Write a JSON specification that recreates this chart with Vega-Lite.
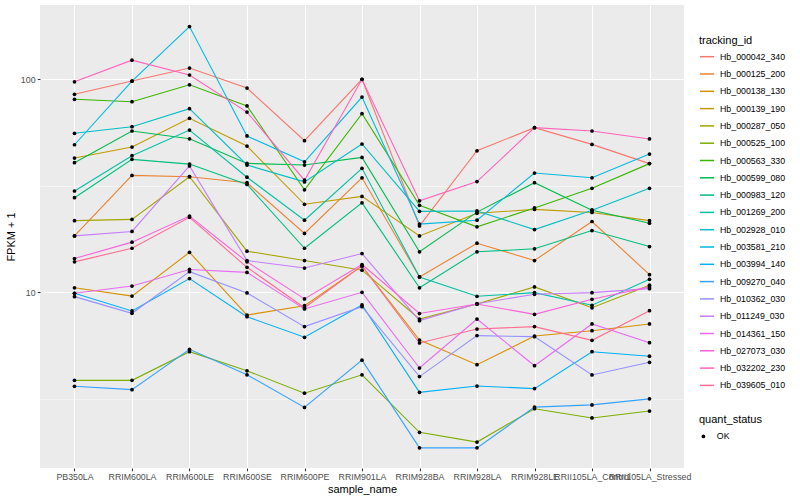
{
  "$schema": "https://vega.github.io/schema/vega-lite/v6.json",
  "width": 644,
  "height": 463,
  "autosize": "none",
  "padding": {"left": 40, "top": 5, "right": 116, "bottom": 32},
  "background": "white",
  "config": {
    "font": "Liberation Sans",
    "view": {"fill": "#EBEBEB", "stroke": null},
    "axis": {
      "domain": false,
      "tickColor": "#333333",
      "tickSize": 2.75,
      "tickWidth": 1.07,
      "labelColor": "#4D4D4D",
      "labelFontSize": 8.8,
      "labelPadding": 2.2,
      "titleFontSize": 11,
      "titleFontWeight": "normal",
      "titleColor": "black",
      "gridColor": "white"
    },
    "legend": {
      "titleFontSize": 11,
      "titleFontWeight": "normal",
      "titleColor": "black",
      "labelFontSize": 8.8,
      "labelColor": "black",
      "padding": 0
    }
  },
  "data": {
    "values": [
      {"tracking_id": "Hb_000042_340", "sample_name": "PB350LA", "fpkm_plus_1": 85.1, "quant_status": "OK"},
      {"tracking_id": "Hb_000042_340", "sample_name": "RRIM600LA", "fpkm_plus_1": 98.2, "quant_status": "OK"},
      {"tracking_id": "Hb_000042_340", "sample_name": "RRIM600LE", "fpkm_plus_1": 113, "quant_status": "OK"},
      {"tracking_id": "Hb_000042_340", "sample_name": "RRIM600SE", "fpkm_plus_1": 91, "quant_status": "OK"},
      {"tracking_id": "Hb_000042_340", "sample_name": "RRIM600PE", "fpkm_plus_1": 51.5, "quant_status": "OK"},
      {"tracking_id": "Hb_000042_340", "sample_name": "RRIM901LA", "fpkm_plus_1": 100, "quant_status": "OK"},
      {"tracking_id": "Hb_000042_340", "sample_name": "RRIM928BA", "fpkm_plus_1": 20.5, "quant_status": "OK"},
      {"tracking_id": "Hb_000042_340", "sample_name": "RRIM928LA", "fpkm_plus_1": 46.2, "quant_status": "OK"},
      {"tracking_id": "Hb_000042_340", "sample_name": "RRIM928LE", "fpkm_plus_1": 59.3, "quant_status": "OK"},
      {"tracking_id": "Hb_000042_340", "sample_name": "RRII105LA_Control", "fpkm_plus_1": 49.5, "quant_status": "OK"},
      {"tracking_id": "Hb_000042_340", "sample_name": "RRII105LA_Stressed", "fpkm_plus_1": 40.2, "quant_status": "OK"},

      {"tracking_id": "Hb_000125_200", "sample_name": "PB350LA", "fpkm_plus_1": 18.4, "quant_status": "OK"},
      {"tracking_id": "Hb_000125_200", "sample_name": "RRIM600LA", "fpkm_plus_1": 35.4, "quant_status": "OK"},
      {"tracking_id": "Hb_000125_200", "sample_name": "RRIM600LE", "fpkm_plus_1": 34.9, "quant_status": "OK"},
      {"tracking_id": "Hb_000125_200", "sample_name": "RRIM600SE", "fpkm_plus_1": 32.7, "quant_status": "OK"},
      {"tracking_id": "Hb_000125_200", "sample_name": "RRIM600PE", "fpkm_plus_1": 18.9, "quant_status": "OK"},
      {"tracking_id": "Hb_000125_200", "sample_name": "RRIM901LA", "fpkm_plus_1": 34.5, "quant_status": "OK"},
      {"tracking_id": "Hb_000125_200", "sample_name": "RRIM928BA", "fpkm_plus_1": 11.8, "quant_status": "OK"},
      {"tracking_id": "Hb_000125_200", "sample_name": "RRIM928LA", "fpkm_plus_1": 17.0, "quant_status": "OK"},
      {"tracking_id": "Hb_000125_200", "sample_name": "RRIM928LE", "fpkm_plus_1": 14.1, "quant_status": "OK"},
      {"tracking_id": "Hb_000125_200", "sample_name": "RRII105LA_Control", "fpkm_plus_1": 21.5, "quant_status": "OK"},
      {"tracking_id": "Hb_000125_200", "sample_name": "RRII105LA_Stressed", "fpkm_plus_1": 12.1, "quant_status": "OK"},

      {"tracking_id": "Hb_000138_130", "sample_name": "PB350LA", "fpkm_plus_1": 10.5, "quant_status": "OK"},
      {"tracking_id": "Hb_000138_130", "sample_name": "RRIM600LA", "fpkm_plus_1": 9.6, "quant_status": "OK"},
      {"tracking_id": "Hb_000138_130", "sample_name": "RRIM600LE", "fpkm_plus_1": 15.4, "quant_status": "OK"},
      {"tracking_id": "Hb_000138_130", "sample_name": "RRIM600SE", "fpkm_plus_1": 7.82, "quant_status": "OK"},
      {"tracking_id": "Hb_000138_130", "sample_name": "RRIM600PE", "fpkm_plus_1": 8.65, "quant_status": "OK"},
      {"tracking_id": "Hb_000138_130", "sample_name": "RRIM901LA", "fpkm_plus_1": 13.3, "quant_status": "OK"},
      {"tracking_id": "Hb_000138_130", "sample_name": "RRIM928BA", "fpkm_plus_1": 5.97, "quant_status": "OK"},
      {"tracking_id": "Hb_000138_130", "sample_name": "RRIM928LA", "fpkm_plus_1": 4.57, "quant_status": "OK"},
      {"tracking_id": "Hb_000138_130", "sample_name": "RRIM928LE", "fpkm_plus_1": 6.23, "quant_status": "OK"},
      {"tracking_id": "Hb_000138_130", "sample_name": "RRII105LA_Control", "fpkm_plus_1": 6.6, "quant_status": "OK"},
      {"tracking_id": "Hb_000138_130", "sample_name": "RRII105LA_Stressed", "fpkm_plus_1": 7.1, "quant_status": "OK"},

      {"tracking_id": "Hb_000139_190", "sample_name": "PB350LA", "fpkm_plus_1": 42.7, "quant_status": "OK"},
      {"tracking_id": "Hb_000139_190", "sample_name": "RRIM600LA", "fpkm_plus_1": 48.1, "quant_status": "OK"},
      {"tracking_id": "Hb_000139_190", "sample_name": "RRIM600LE", "fpkm_plus_1": 65.6, "quant_status": "OK"},
      {"tracking_id": "Hb_000139_190", "sample_name": "RRIM600SE", "fpkm_plus_1": 48.6, "quant_status": "OK"},
      {"tracking_id": "Hb_000139_190", "sample_name": "RRIM600PE", "fpkm_plus_1": 25.9, "quant_status": "OK"},
      {"tracking_id": "Hb_000139_190", "sample_name": "RRIM901LA", "fpkm_plus_1": 28.2, "quant_status": "OK"},
      {"tracking_id": "Hb_000139_190", "sample_name": "RRIM928BA", "fpkm_plus_1": 18.4, "quant_status": "OK"},
      {"tracking_id": "Hb_000139_190", "sample_name": "RRIM928LA", "fpkm_plus_1": 23.5, "quant_status": "OK"},
      {"tracking_id": "Hb_000139_190", "sample_name": "RRIM928LE", "fpkm_plus_1": 24.5, "quant_status": "OK"},
      {"tracking_id": "Hb_000139_190", "sample_name": "RRII105LA_Control", "fpkm_plus_1": 23.7, "quant_status": "OK"},
      {"tracking_id": "Hb_000139_190", "sample_name": "RRII105LA_Stressed", "fpkm_plus_1": 21.7, "quant_status": "OK"},

      {"tracking_id": "Hb_000287_050", "sample_name": "PB350LA", "fpkm_plus_1": 21.7, "quant_status": "OK"},
      {"tracking_id": "Hb_000287_050", "sample_name": "RRIM600LA", "fpkm_plus_1": 22.0, "quant_status": "OK"},
      {"tracking_id": "Hb_000287_050", "sample_name": "RRIM600LE", "fpkm_plus_1": 34.9, "quant_status": "OK"},
      {"tracking_id": "Hb_000287_050", "sample_name": "RRIM600SE", "fpkm_plus_1": 15.6, "quant_status": "OK"},
      {"tracking_id": "Hb_000287_050", "sample_name": "RRIM600PE", "fpkm_plus_1": 14.1, "quant_status": "OK"},
      {"tracking_id": "Hb_000287_050", "sample_name": "RRIM901LA", "fpkm_plus_1": 12.7, "quant_status": "OK"},
      {"tracking_id": "Hb_000287_050", "sample_name": "RRIM928BA", "fpkm_plus_1": 7.49, "quant_status": "OK"},
      {"tracking_id": "Hb_000287_050", "sample_name": "RRIM928LA", "fpkm_plus_1": 8.81, "quant_status": "OK"},
      {"tracking_id": "Hb_000287_050", "sample_name": "RRIM928LE", "fpkm_plus_1": 10.6, "quant_status": "OK"},
      {"tracking_id": "Hb_000287_050", "sample_name": "RRII105LA_Control", "fpkm_plus_1": 8.46, "quant_status": "OK"},
      {"tracking_id": "Hb_000287_050", "sample_name": "RRII105LA_Stressed", "fpkm_plus_1": 10.8, "quant_status": "OK"},

      {"tracking_id": "Hb_000525_100", "sample_name": "PB350LA", "fpkm_plus_1": 3.86, "quant_status": "OK"},
      {"tracking_id": "Hb_000525_100", "sample_name": "RRIM600LA", "fpkm_plus_1": 3.86, "quant_status": "OK"},
      {"tracking_id": "Hb_000525_100", "sample_name": "RRIM600LE", "fpkm_plus_1": 5.26, "quant_status": "OK"},
      {"tracking_id": "Hb_000525_100", "sample_name": "RRIM600SE", "fpkm_plus_1": 4.28, "quant_status": "OK"},
      {"tracking_id": "Hb_000525_100", "sample_name": "RRIM600PE", "fpkm_plus_1": 3.36, "quant_status": "OK"},
      {"tracking_id": "Hb_000525_100", "sample_name": "RRIM901LA", "fpkm_plus_1": 4.1, "quant_status": "OK"},
      {"tracking_id": "Hb_000525_100", "sample_name": "RRIM928BA", "fpkm_plus_1": 2.2, "quant_status": "OK"},
      {"tracking_id": "Hb_000525_100", "sample_name": "RRIM928LA", "fpkm_plus_1": 1.98, "quant_status": "OK"},
      {"tracking_id": "Hb_000525_100", "sample_name": "RRIM928LE", "fpkm_plus_1": 2.84, "quant_status": "OK"},
      {"tracking_id": "Hb_000525_100", "sample_name": "RRII105LA_Control", "fpkm_plus_1": 2.57, "quant_status": "OK"},
      {"tracking_id": "Hb_000525_100", "sample_name": "RRII105LA_Stressed", "fpkm_plus_1": 2.77, "quant_status": "OK"},

      {"tracking_id": "Hb_000563_330", "sample_name": "PB350LA", "fpkm_plus_1": 80.6, "quant_status": "OK"},
      {"tracking_id": "Hb_000563_330", "sample_name": "RRIM600LA", "fpkm_plus_1": 78.5, "quant_status": "OK"},
      {"tracking_id": "Hb_000563_330", "sample_name": "RRIM600LE", "fpkm_plus_1": 94.3, "quant_status": "OK"},
      {"tracking_id": "Hb_000563_330", "sample_name": "RRIM600SE", "fpkm_plus_1": 75, "quant_status": "OK"},
      {"tracking_id": "Hb_000563_330", "sample_name": "RRIM600PE", "fpkm_plus_1": 30.3, "quant_status": "OK"},
      {"tracking_id": "Hb_000563_330", "sample_name": "RRIM901LA", "fpkm_plus_1": 69, "quant_status": "OK"},
      {"tracking_id": "Hb_000563_330", "sample_name": "RRIM928BA", "fpkm_plus_1": 25.6, "quant_status": "OK"},
      {"tracking_id": "Hb_000563_330", "sample_name": "RRIM928LA", "fpkm_plus_1": 20.3, "quant_status": "OK"},
      {"tracking_id": "Hb_000563_330", "sample_name": "RRIM928LE", "fpkm_plus_1": 24.9, "quant_status": "OK"},
      {"tracking_id": "Hb_000563_330", "sample_name": "RRII105LA_Control", "fpkm_plus_1": 30.8, "quant_status": "OK"},
      {"tracking_id": "Hb_000563_330", "sample_name": "RRII105LA_Stressed", "fpkm_plus_1": 40.2, "quant_status": "OK"},

      {"tracking_id": "Hb_000599_080", "sample_name": "PB350LA", "fpkm_plus_1": 40.6, "quant_status": "OK"},
      {"tracking_id": "Hb_000599_080", "sample_name": "RRIM600LA", "fpkm_plus_1": 57.2, "quant_status": "OK"},
      {"tracking_id": "Hb_000599_080", "sample_name": "RRIM600LE", "fpkm_plus_1": 52.6, "quant_status": "OK"},
      {"tracking_id": "Hb_000599_080", "sample_name": "RRIM600SE", "fpkm_plus_1": 40.3, "quant_status": "OK"},
      {"tracking_id": "Hb_000599_080", "sample_name": "RRIM600PE", "fpkm_plus_1": 39.6, "quant_status": "OK"},
      {"tracking_id": "Hb_000599_080", "sample_name": "RRIM901LA", "fpkm_plus_1": 43, "quant_status": "OK"},
      {"tracking_id": "Hb_000599_080", "sample_name": "RRIM928BA", "fpkm_plus_1": 15.5, "quant_status": "OK"},
      {"tracking_id": "Hb_000599_080", "sample_name": "RRIM928LA", "fpkm_plus_1": 23.8, "quant_status": "OK"},
      {"tracking_id": "Hb_000599_080", "sample_name": "RRIM928LE", "fpkm_plus_1": 32.7, "quant_status": "OK"},
      {"tracking_id": "Hb_000599_080", "sample_name": "RRII105LA_Control", "fpkm_plus_1": 24.3, "quant_status": "OK"},
      {"tracking_id": "Hb_000599_080", "sample_name": "RRII105LA_Stressed", "fpkm_plus_1": 21.1, "quant_status": "OK"},

      {"tracking_id": "Hb_000983_120", "sample_name": "PB350LA", "fpkm_plus_1": 27.8, "quant_status": "OK"},
      {"tracking_id": "Hb_000983_120", "sample_name": "RRIM600LA", "fpkm_plus_1": 42.1, "quant_status": "OK"},
      {"tracking_id": "Hb_000983_120", "sample_name": "RRIM600LE", "fpkm_plus_1": 40.0, "quant_status": "OK"},
      {"tracking_id": "Hb_000983_120", "sample_name": "RRIM600SE", "fpkm_plus_1": 32.1, "quant_status": "OK"},
      {"tracking_id": "Hb_000983_120", "sample_name": "RRIM600PE", "fpkm_plus_1": 16.1, "quant_status": "OK"},
      {"tracking_id": "Hb_000983_120", "sample_name": "RRIM901LA", "fpkm_plus_1": 26.3, "quant_status": "OK"},
      {"tracking_id": "Hb_000983_120", "sample_name": "RRIM928BA", "fpkm_plus_1": 10.5, "quant_status": "OK"},
      {"tracking_id": "Hb_000983_120", "sample_name": "RRIM928LA", "fpkm_plus_1": 15.5, "quant_status": "OK"},
      {"tracking_id": "Hb_000983_120", "sample_name": "RRIM928LE", "fpkm_plus_1": 16.0, "quant_status": "OK"},
      {"tracking_id": "Hb_000983_120", "sample_name": "RRII105LA_Control", "fpkm_plus_1": 19.5, "quant_status": "OK"},
      {"tracking_id": "Hb_000983_120", "sample_name": "RRII105LA_Stressed", "fpkm_plus_1": 16.4, "quant_status": "OK"},

      {"tracking_id": "Hb_001269_200", "sample_name": "PB350LA", "fpkm_plus_1": 29.9, "quant_status": "OK"},
      {"tracking_id": "Hb_001269_200", "sample_name": "RRIM600LA", "fpkm_plus_1": 43.8, "quant_status": "OK"},
      {"tracking_id": "Hb_001269_200", "sample_name": "RRIM600LE", "fpkm_plus_1": 57.8, "quant_status": "OK"},
      {"tracking_id": "Hb_001269_200", "sample_name": "RRIM600SE", "fpkm_plus_1": 34.7, "quant_status": "OK"},
      {"tracking_id": "Hb_001269_200", "sample_name": "RRIM600PE", "fpkm_plus_1": 21.8, "quant_status": "OK"},
      {"tracking_id": "Hb_001269_200", "sample_name": "RRIM901LA", "fpkm_plus_1": 38.2, "quant_status": "OK"},
      {"tracking_id": "Hb_001269_200", "sample_name": "RRIM928BA", "fpkm_plus_1": 11.8, "quant_status": "OK"},
      {"tracking_id": "Hb_001269_200", "sample_name": "RRIM928LA", "fpkm_plus_1": 9.58, "quant_status": "OK"},
      {"tracking_id": "Hb_001269_200", "sample_name": "RRIM928LE", "fpkm_plus_1": 9.96, "quant_status": "OK"},
      {"tracking_id": "Hb_001269_200", "sample_name": "RRII105LA_Control", "fpkm_plus_1": 8.69, "quant_status": "OK"},
      {"tracking_id": "Hb_001269_200", "sample_name": "RRII105LA_Stressed", "fpkm_plus_1": 11.5, "quant_status": "OK"},

      {"tracking_id": "Hb_002928_010", "sample_name": "PB350LA", "fpkm_plus_1": 55.8, "quant_status": "OK"},
      {"tracking_id": "Hb_002928_010", "sample_name": "RRIM600LA", "fpkm_plus_1": 59.9, "quant_status": "OK"},
      {"tracking_id": "Hb_002928_010", "sample_name": "RRIM600LE", "fpkm_plus_1": 72.8, "quant_status": "OK"},
      {"tracking_id": "Hb_002928_010", "sample_name": "RRIM600SE", "fpkm_plus_1": 39.6, "quant_status": "OK"},
      {"tracking_id": "Hb_002928_010", "sample_name": "RRIM600PE", "fpkm_plus_1": 33.0, "quant_status": "OK"},
      {"tracking_id": "Hb_002928_010", "sample_name": "RRIM901LA", "fpkm_plus_1": 49.7, "quant_status": "OK"},
      {"tracking_id": "Hb_002928_010", "sample_name": "RRIM928BA", "fpkm_plus_1": 24.0, "quant_status": "OK"},
      {"tracking_id": "Hb_002928_010", "sample_name": "RRIM928LA", "fpkm_plus_1": 24.1, "quant_status": "OK"},
      {"tracking_id": "Hb_002928_010", "sample_name": "RRIM928LE", "fpkm_plus_1": 19.7, "quant_status": "OK"},
      {"tracking_id": "Hb_002928_010", "sample_name": "RRII105LA_Control", "fpkm_plus_1": 24.3, "quant_status": "OK"},
      {"tracking_id": "Hb_002928_010", "sample_name": "RRII105LA_Stressed", "fpkm_plus_1": 30.8, "quant_status": "OK"},

      {"tracking_id": "Hb_003581_210", "sample_name": "PB350LA", "fpkm_plus_1": 49.3, "quant_status": "OK"},
      {"tracking_id": "Hb_003581_210", "sample_name": "RRIM600LA", "fpkm_plus_1": 98, "quant_status": "OK"},
      {"tracking_id": "Hb_003581_210", "sample_name": "RRIM600LE", "fpkm_plus_1": 177, "quant_status": "OK"},
      {"tracking_id": "Hb_003581_210", "sample_name": "RRIM600SE", "fpkm_plus_1": 54.2, "quant_status": "OK"},
      {"tracking_id": "Hb_003581_210", "sample_name": "RRIM600PE", "fpkm_plus_1": 41.0, "quant_status": "OK"},
      {"tracking_id": "Hb_003581_210", "sample_name": "RRIM901LA", "fpkm_plus_1": 82.6, "quant_status": "OK"},
      {"tracking_id": "Hb_003581_210", "sample_name": "RRIM928BA", "fpkm_plus_1": 20.9, "quant_status": "OK"},
      {"tracking_id": "Hb_003581_210", "sample_name": "RRIM928LA", "fpkm_plus_1": 21.8, "quant_status": "OK"},
      {"tracking_id": "Hb_003581_210", "sample_name": "RRIM928LE", "fpkm_plus_1": 36.3, "quant_status": "OK"},
      {"tracking_id": "Hb_003581_210", "sample_name": "RRII105LA_Control", "fpkm_plus_1": 34.5, "quant_status": "OK"},
      {"tracking_id": "Hb_003581_210", "sample_name": "RRII105LA_Stressed", "fpkm_plus_1": 44.6, "quant_status": "OK"},

      {"tracking_id": "Hb_003994_140", "sample_name": "PB350LA", "fpkm_plus_1": 9.89, "quant_status": "OK"},
      {"tracking_id": "Hb_003994_140", "sample_name": "RRIM600LA", "fpkm_plus_1": 8.17, "quant_status": "OK"},
      {"tracking_id": "Hb_003994_140", "sample_name": "RRIM600LE", "fpkm_plus_1": 11.6, "quant_status": "OK"},
      {"tracking_id": "Hb_003994_140", "sample_name": "RRIM600SE", "fpkm_plus_1": 7.68, "quant_status": "OK"},
      {"tracking_id": "Hb_003994_140", "sample_name": "RRIM600PE", "fpkm_plus_1": 6.15, "quant_status": "OK"},
      {"tracking_id": "Hb_003994_140", "sample_name": "RRIM901LA", "fpkm_plus_1": 8.72, "quant_status": "OK"},
      {"tracking_id": "Hb_003994_140", "sample_name": "RRIM928BA", "fpkm_plus_1": 3.39, "quant_status": "OK"},
      {"tracking_id": "Hb_003994_140", "sample_name": "RRIM928LA", "fpkm_plus_1": 3.63, "quant_status": "OK"},
      {"tracking_id": "Hb_003994_140", "sample_name": "RRIM928LE", "fpkm_plus_1": 3.53, "quant_status": "OK"},
      {"tracking_id": "Hb_003994_140", "sample_name": "RRII105LA_Control", "fpkm_plus_1": 5.26, "quant_status": "OK"},
      {"tracking_id": "Hb_003994_140", "sample_name": "RRII105LA_Stressed", "fpkm_plus_1": 5.01, "quant_status": "OK"},

      {"tracking_id": "Hb_009270_040", "sample_name": "PB350LA", "fpkm_plus_1": 3.62, "quant_status": "OK"},
      {"tracking_id": "Hb_009270_040", "sample_name": "RRIM600LA", "fpkm_plus_1": 3.49, "quant_status": "OK"},
      {"tracking_id": "Hb_009270_040", "sample_name": "RRIM600LE", "fpkm_plus_1": 5.4, "quant_status": "OK"},
      {"tracking_id": "Hb_009270_040", "sample_name": "RRIM600SE", "fpkm_plus_1": 4.1, "quant_status": "OK"},
      {"tracking_id": "Hb_009270_040", "sample_name": "RRIM600PE", "fpkm_plus_1": 2.88, "quant_status": "OK"},
      {"tracking_id": "Hb_009270_040", "sample_name": "RRIM901LA", "fpkm_plus_1": 4.8, "quant_status": "OK"},
      {"tracking_id": "Hb_009270_040", "sample_name": "RRIM928BA", "fpkm_plus_1": 1.86, "quant_status": "OK"},
      {"tracking_id": "Hb_009270_040", "sample_name": "RRIM928LA", "fpkm_plus_1": 1.86, "quant_status": "OK"},
      {"tracking_id": "Hb_009270_040", "sample_name": "RRIM928LE", "fpkm_plus_1": 2.89, "quant_status": "OK"},
      {"tracking_id": "Hb_009270_040", "sample_name": "RRII105LA_Control", "fpkm_plus_1": 2.96, "quant_status": "OK"},
      {"tracking_id": "Hb_009270_040", "sample_name": "RRII105LA_Stressed", "fpkm_plus_1": 3.16, "quant_status": "OK"},

      {"tracking_id": "Hb_010362_030", "sample_name": "PB350LA", "fpkm_plus_1": 9.54, "quant_status": "OK"},
      {"tracking_id": "Hb_010362_030", "sample_name": "RRIM600LA", "fpkm_plus_1": 7.97, "quant_status": "OK"},
      {"tracking_id": "Hb_010362_030", "sample_name": "RRIM600LE", "fpkm_plus_1": 12.5, "quant_status": "OK"},
      {"tracking_id": "Hb_010362_030", "sample_name": "RRIM600SE", "fpkm_plus_1": 9.93, "quant_status": "OK"},
      {"tracking_id": "Hb_010362_030", "sample_name": "RRIM600PE", "fpkm_plus_1": 6.9, "quant_status": "OK"},
      {"tracking_id": "Hb_010362_030", "sample_name": "RRIM901LA", "fpkm_plus_1": 8.56, "quant_status": "OK"},
      {"tracking_id": "Hb_010362_030", "sample_name": "RRIM928BA", "fpkm_plus_1": 4.02, "quant_status": "OK"},
      {"tracking_id": "Hb_010362_030", "sample_name": "RRIM928LA", "fpkm_plus_1": 6.26, "quant_status": "OK"},
      {"tracking_id": "Hb_010362_030", "sample_name": "RRIM928LE", "fpkm_plus_1": 6.19, "quant_status": "OK"},
      {"tracking_id": "Hb_010362_030", "sample_name": "RRII105LA_Control", "fpkm_plus_1": 4.09, "quant_status": "OK"},
      {"tracking_id": "Hb_010362_030", "sample_name": "RRII105LA_Stressed", "fpkm_plus_1": 4.69, "quant_status": "OK"},

      {"tracking_id": "Hb_011249_030", "sample_name": "PB350LA", "fpkm_plus_1": 18.4, "quant_status": "OK"},
      {"tracking_id": "Hb_011249_030", "sample_name": "RRIM600LA", "fpkm_plus_1": 19.3, "quant_status": "OK"},
      {"tracking_id": "Hb_011249_030", "sample_name": "RRIM600LE", "fpkm_plus_1": 39.2, "quant_status": "OK"},
      {"tracking_id": "Hb_011249_030", "sample_name": "RRIM600SE", "fpkm_plus_1": 14.1, "quant_status": "OK"},
      {"tracking_id": "Hb_011249_030", "sample_name": "RRIM600PE", "fpkm_plus_1": 13.0, "quant_status": "OK"},
      {"tracking_id": "Hb_011249_030", "sample_name": "RRIM901LA", "fpkm_plus_1": 15.2, "quant_status": "OK"},
      {"tracking_id": "Hb_011249_030", "sample_name": "RRIM928BA", "fpkm_plus_1": 7.36, "quant_status": "OK"},
      {"tracking_id": "Hb_011249_030", "sample_name": "RRIM928LA", "fpkm_plus_1": 8.84, "quant_status": "OK"},
      {"tracking_id": "Hb_011249_030", "sample_name": "RRIM928LE", "fpkm_plus_1": 9.79, "quant_status": "OK"},
      {"tracking_id": "Hb_011249_030", "sample_name": "RRII105LA_Control", "fpkm_plus_1": 9.96, "quant_status": "OK"},
      {"tracking_id": "Hb_011249_030", "sample_name": "RRII105LA_Stressed", "fpkm_plus_1": 10.4, "quant_status": "OK"},

      {"tracking_id": "Hb_014361_150", "sample_name": "PB350LA", "fpkm_plus_1": 9.89, "quant_status": "OK"},
      {"tracking_id": "Hb_014361_150", "sample_name": "RRIM600LA", "fpkm_plus_1": 10.7, "quant_status": "OK"},
      {"tracking_id": "Hb_014361_150", "sample_name": "RRIM600LE", "fpkm_plus_1": 12.8, "quant_status": "OK"},
      {"tracking_id": "Hb_014361_150", "sample_name": "RRIM600SE", "fpkm_plus_1": 12.4, "quant_status": "OK"},
      {"tracking_id": "Hb_014361_150", "sample_name": "RRIM600PE", "fpkm_plus_1": 8.35, "quant_status": "OK"},
      {"tracking_id": "Hb_014361_150", "sample_name": "RRIM901LA", "fpkm_plus_1": 10.0, "quant_status": "OK"},
      {"tracking_id": "Hb_014361_150", "sample_name": "RRIM928BA", "fpkm_plus_1": 4.41, "quant_status": "OK"},
      {"tracking_id": "Hb_014361_150", "sample_name": "RRIM928LA", "fpkm_plus_1": 7.49, "quant_status": "OK"},
      {"tracking_id": "Hb_014361_150", "sample_name": "RRIM928LE", "fpkm_plus_1": 4.52, "quant_status": "OK"},
      {"tracking_id": "Hb_014361_150", "sample_name": "RRII105LA_Control", "fpkm_plus_1": 7.1, "quant_status": "OK"},
      {"tracking_id": "Hb_014361_150", "sample_name": "RRII105LA_Stressed", "fpkm_plus_1": 5.8, "quant_status": "OK"},

      {"tracking_id": "Hb_027073_030", "sample_name": "PB350LA", "fpkm_plus_1": 14.4, "quant_status": "OK"},
      {"tracking_id": "Hb_027073_030", "sample_name": "RRIM600LA", "fpkm_plus_1": 17.2, "quant_status": "OK"},
      {"tracking_id": "Hb_027073_030", "sample_name": "RRIM600LE", "fpkm_plus_1": 22.8, "quant_status": "OK"},
      {"tracking_id": "Hb_027073_030", "sample_name": "RRIM600SE", "fpkm_plus_1": 13.9, "quant_status": "OK"},
      {"tracking_id": "Hb_027073_030", "sample_name": "RRIM600PE", "fpkm_plus_1": 9.31, "quant_status": "OK"},
      {"tracking_id": "Hb_027073_030", "sample_name": "RRIM901LA", "fpkm_plus_1": 13.5, "quant_status": "OK"},
      {"tracking_id": "Hb_027073_030", "sample_name": "RRIM928BA", "fpkm_plus_1": 7.95, "quant_status": "OK"},
      {"tracking_id": "Hb_027073_030", "sample_name": "RRIM928LA", "fpkm_plus_1": 8.81, "quant_status": "OK"},
      {"tracking_id": "Hb_027073_030", "sample_name": "RRIM928LE", "fpkm_plus_1": 7.88, "quant_status": "OK"},
      {"tracking_id": "Hb_027073_030", "sample_name": "RRII105LA_Control", "fpkm_plus_1": 9.27, "quant_status": "OK"},
      {"tracking_id": "Hb_027073_030", "sample_name": "RRII105LA_Stressed", "fpkm_plus_1": 10.6, "quant_status": "OK"},

      {"tracking_id": "Hb_032202_230", "sample_name": "PB350LA", "fpkm_plus_1": 97.4, "quant_status": "OK"},
      {"tracking_id": "Hb_032202_230", "sample_name": "RRIM600LA", "fpkm_plus_1": 123, "quant_status": "OK"},
      {"tracking_id": "Hb_032202_230", "sample_name": "RRIM600LE", "fpkm_plus_1": 104.8, "quant_status": "OK"},
      {"tracking_id": "Hb_032202_230", "sample_name": "RRIM600SE", "fpkm_plus_1": 70.2, "quant_status": "OK"},
      {"tracking_id": "Hb_032202_230", "sample_name": "RRIM600PE", "fpkm_plus_1": 33.6, "quant_status": "OK"},
      {"tracking_id": "Hb_032202_230", "sample_name": "RRIM901LA", "fpkm_plus_1": 100, "quant_status": "OK"},
      {"tracking_id": "Hb_032202_230", "sample_name": "RRIM928BA", "fpkm_plus_1": 26.9, "quant_status": "OK"},
      {"tracking_id": "Hb_032202_230", "sample_name": "RRIM928LA", "fpkm_plus_1": 33.1, "quant_status": "OK"},
      {"tracking_id": "Hb_032202_230", "sample_name": "RRIM928LE", "fpkm_plus_1": 59.3, "quant_status": "OK"},
      {"tracking_id": "Hb_032202_230", "sample_name": "RRII105LA_Control", "fpkm_plus_1": 57.2, "quant_status": "OK"},
      {"tracking_id": "Hb_032202_230", "sample_name": "RRII105LA_Stressed", "fpkm_plus_1": 52.5, "quant_status": "OK"},

      {"tracking_id": "Hb_039605_010", "sample_name": "PB350LA", "fpkm_plus_1": 13.9, "quant_status": "OK"},
      {"tracking_id": "Hb_039605_010", "sample_name": "RRIM600LA", "fpkm_plus_1": 16.1, "quant_status": "OK"},
      {"tracking_id": "Hb_039605_010", "sample_name": "RRIM600LE", "fpkm_plus_1": 22.5, "quant_status": "OK"},
      {"tracking_id": "Hb_039605_010", "sample_name": "RRIM600SE", "fpkm_plus_1": 13.1, "quant_status": "OK"},
      {"tracking_id": "Hb_039605_010", "sample_name": "RRIM600PE", "fpkm_plus_1": 8.46, "quant_status": "OK"},
      {"tracking_id": "Hb_039605_010", "sample_name": "RRIM901LA", "fpkm_plus_1": 13.3, "quant_status": "OK"},
      {"tracking_id": "Hb_039605_010", "sample_name": "RRIM928BA", "fpkm_plus_1": 5.78, "quant_status": "OK"},
      {"tracking_id": "Hb_039605_010", "sample_name": "RRIM928LA", "fpkm_plus_1": 6.72, "quant_status": "OK"},
      {"tracking_id": "Hb_039605_010", "sample_name": "RRIM928LE", "fpkm_plus_1": 6.9, "quant_status": "OK"},
      {"tracking_id": "Hb_039605_010", "sample_name": "RRII105LA_Control", "fpkm_plus_1": 5.95, "quant_status": "OK"},
      {"tracking_id": "Hb_039605_010", "sample_name": "RRII105LA_Stressed", "fpkm_plus_1": 8.2, "quant_status": "OK"}
    ]
  },
  "encoding": {
    "x": {
      "field": "sample_name",
      "type": "nominal",
      "sort": ["PB350LA", "RRIM600LA", "RRIM600LE", "RRIM600SE", "RRIM600PE", "RRIM901LA", "RRIM928BA", "RRIM928LA", "RRIM928LE", "RRII105LA_Control", "RRII105LA_Stressed"],
      "scale": {"type": "point", "padding": 0.6},
      "axis": {"title": "sample_name", "labelAngle": 0, "labelOverlap": false, "labelBound": false, "labelFlush": false, "grid": true, "gridWidth": 1.07, "titlePadding": 2}
    },
    "y": {
      "field": "fpkm_plus_1",
      "type": "quantitative",
      "scale": {"type": "log", "domain": [1.496, 223.4], "nice": false},
      "axis": {
        "title": "FPKM + 1",
        "values": [3.1623, 10, 31.623, 100],
        "labelExpr": "datum.value == 10 ? '10' : (datum.value == 100 ? '100' : '')",
        "gridWidth": {"condition": {"test": "datum.value == 10 || datum.value == 100", "value": 1.07}, "value": 0.53},
        "tickOpacity": {"condition": {"test": "datum.value == 10 || datum.value == 100", "value": 1}, "value": 0},
        "titlePadding": 4
      }
    }
  },
  "layer": [
    {
      "mark": {"type": "line", "strokeWidth": 1.1},
      "encoding": {
        "color": {
          "field": "tracking_id",
          "type": "nominal",
          "scale": {
            "domain": ["Hb_000042_340", "Hb_000125_200", "Hb_000138_130", "Hb_000139_190", "Hb_000287_050", "Hb_000525_100", "Hb_000563_330", "Hb_000599_080", "Hb_000983_120", "Hb_001269_200", "Hb_002928_010", "Hb_003581_210", "Hb_003994_140", "Hb_009270_040", "Hb_010362_030", "Hb_011249_030", "Hb_014361_150", "Hb_027073_030", "Hb_032202_230", "Hb_039605_010"],
            "range": ["#F8766D", "#EA8331", "#D89000", "#C09B00", "#A3A500", "#7CAE00", "#39B600", "#00BB4E", "#00BF7D", "#00C1A3", "#00BFC4", "#00BAE0", "#00B0F6", "#35A2FF", "#9590FF", "#C77CFF", "#E76BF3", "#FA62DB", "#FF62BC", "#FF6C91"]
          },
          "legend": {
            "title": "tracking_id",
            "orient": "none",
            "legendX": 659,
            "legendY": 30,
            "symbolType": "stroke",
            "symbolSize": 200,
            "symbolStrokeWidth": 1.5,
            "rowPadding": 4.3,
            "titlePadding": 2.7,
            "labelOffset": 5
          }
        }
      }
    },
    {
      "mark": {"type": "point", "filled": true, "size": 14, "opacity": 1},
      "encoding": {
        "color": {"value": "black"},
        "shape": {
          "field": "quant_status",
          "type": "nominal",
          "scale": {"range": ["circle"]},
          "legend": {
            "title": "quant_status",
            "orient": "none",
            "legendX": 659,
            "legendY": 409,
            "symbolSize": 14,
            "symbolFillColor": "black",
            "titlePadding": 7,
            "labelOffset": 9
          }
        }
      }
    }
  ]
}
